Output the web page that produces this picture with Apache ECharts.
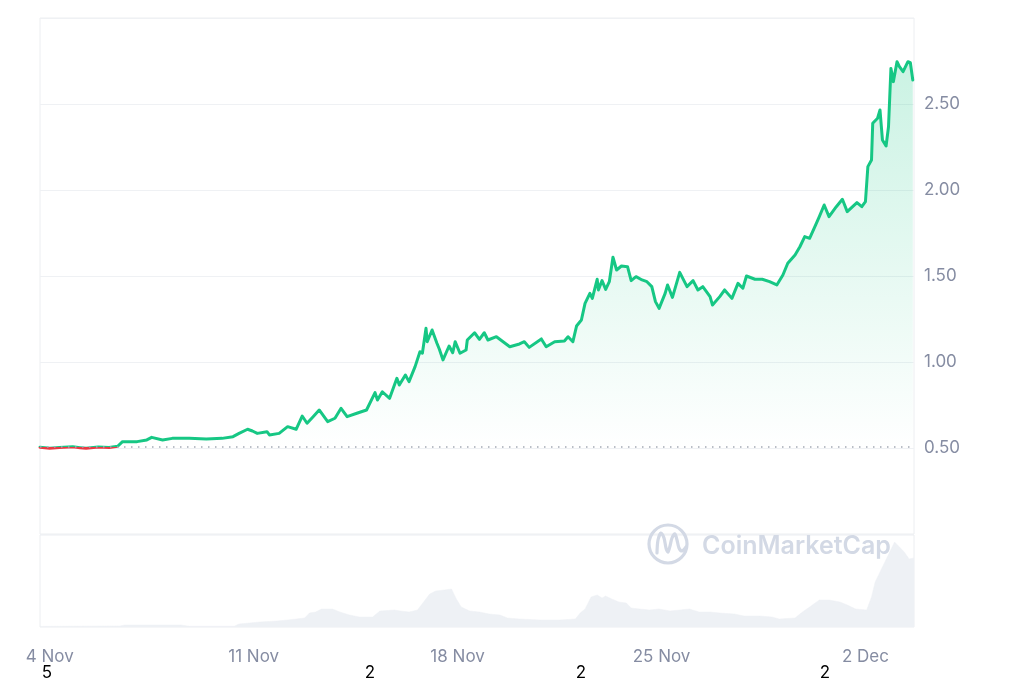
<!DOCTYPE html>
<html>
<head>
<meta charset="utf-8">
<script src="https://cdn.jsdelivr.net/npm/echarts@6/dist/echarts.min.js"></script>
<style>
html,body{margin:0;padding:0;background:#fff;}
#c{width:1024px;height:683px;}
</style>
</head>
<body>
<div id="c"></div>
<script>
// ---- data (hours are counted from 4 Nov 00:00) ----
const priceHours = [-8,0,8,19,25,30,40,49,56,60,72,80,84,93,101,115,129,142,151,156,163,167,171,179,181,189,196,203,208,212,217,222,229,235,240,245,253,261,268,270,274,280,286,288,293,296,301,305,307,310,311,315,319,321,324,329,332,334,338,343,344,350,354,358,361,368,379,387,391,395,405,409,416,424,427,431,434,438,441,445,447,451,452,455,458,461,464,467,471,476,479,483,488,492,496,499,502,507,509,513,519,525,530,534,538,544,546,552,556,562,567,571,574,581,587,593,599,604,608,614,618,622,626,631,634,638,642,648,653,657,665,669,672,674,677,678,682,684,686,689,691,693,695,698,700,703,707,709,711];
const priceValues = [0.505,0.499,0.503,0.507,0.502,0.498,0.506,0.503,0.510,0.537,0.537,0.547,0.562,0.547,0.556,0.556,0.552,0.556,0.566,0.585,0.609,0.599,0.585,0.595,0.576,0.585,0.624,0.609,0.686,0.644,0.682,0.721,0.653,0.673,0.731,0.682,0.702,0.721,0.822,0.779,0.827,0.789,0.905,0.866,0.924,0.886,0.973,1.060,1.051,1.196,1.118,1.186,1.109,1.074,1.012,1.093,1.054,1.118,1.051,1.070,1.128,1.170,1.132,1.170,1.128,1.147,1.089,1.105,1.118,1.085,1.134,1.089,1.118,1.122,1.147,1.118,1.209,1.244,1.341,1.399,1.370,1.481,1.419,1.473,1.422,1.467,1.609,1.535,1.558,1.554,1.473,1.496,1.477,1.467,1.438,1.351,1.312,1.399,1.448,1.376,1.521,1.438,1.473,1.419,1.438,1.380,1.331,1.380,1.419,1.370,1.457,1.429,1.500,1.481,1.481,1.467,1.448,1.506,1.574,1.622,1.670,1.729,1.719,1.797,1.845,1.913,1.845,1.903,1.946,1.874,1.927,1.903,1.932,2.136,2.174,2.388,2.417,2.465,2.291,2.256,2.368,2.707,2.630,2.746,2.717,2.688,2.746,2.740,2.640];
const openPrice = 0.505;

const volumeHours = [-8,25,58,62,108,115,152,156,173,187,196,210,214,219,224,233,239,247,255,266,272,284,289,296,303,308,313,318,325,331,335,339,346,354,362,371,377,387,404,420,433,437,441,446,451,455,458,463,469,475,479,486,494,502,511,519,527,535,544,552,564,572,585,595,601,614,619,626,634,642,651,657,664,673,677,680,684,688,692,696,700,704,708,712];
const volumeValues = [0.3,0.4,0.5,1,1,0.4,0.4,1.5,2.5,3,3.5,4.5,7,7.5,9,9,7.5,6,5,5,8,8.5,8,7.5,8.5,12.5,16.5,18,18.5,19,14,10,8,7.5,6.5,6,4.5,4,3.5,3.5,4,7,9,15,16,14.5,15.5,14,12.5,12,9.5,9,8.5,9,8,8.5,9,7.5,7.5,7,6.5,5.5,5.5,5,4,4.5,7,10,13.5,13.5,12.5,11,9,8.5,15,22.5,27.5,32.5,37.5,42.5,40,37.5,34,34.5];

const tickHours = [0,168,336,504,672];
const tickLabels = ['4 Nov','11 Nov','18 Nov','25 Nov','2 Dec'];
const priceTicks = [0.5,1.0,1.5,2.0,2.5];
const footNotes = ['5','2','2','2'];

// ---- build ----
const priceData = priceHours.map((h,i)=>[h, priceValues[i]]);
const volumeData = volumeHours.map((h,i)=>[h, volumeValues[i]]);
const hMin = -8, hMax = 712;

const GREEN = '#16c784', RED = '#ea3943';
const LABEL = '#858ca2';
const FONT = 'Inter, "Noto Sans", sans-serif';
const BORDER = '#eceef1';
const WM = '#d3d9e5';

const chart = echarts.init(document.getElementById('c'), null, {renderer:'canvas'});
chart.setOption({
  animation:false,
  backgroundColor:'#fff',
  grid:[
    {left:40, right:110, top:18, height:516, show:true, borderColor:BORDER, borderWidth:1},
    {left:40, right:110, top:535, height:92, show:true, borderColor:BORDER, borderWidth:1}
  ],
  xAxis:[
    {type:'value', gridIndex:0, min:hMin, max:hMax, axisLine:{show:false}, axisTick:{show:false}, axisLabel:{show:false}, splitLine:{show:false}},
    {type:'value', gridIndex:1, min:hMin, max:hMax, axisLine:{show:false}, axisTick:{show:false}, splitLine:{show:false},
     axisLabel:{customValues:tickHours, color:LABEL, fontSize:17, fontFamily:FONT, margin:21,
       formatter:(v)=>{const i=tickHours.indexOf(v); return i>=0?tickLabels[i]:'';}}}
  ],
  yAxis:[
    {type:'value', gridIndex:0, position:'right', min:0, max:3, interval:0.5,
     axisLine:{show:false}, axisTick:{show:false},
     axisLabel:{customValues:priceTicks, color:LABEL, fontSize:17, fontFamily:FONT, margin:10, formatter:v=>v.toFixed(2)},
     splitLine:{show:true, lineStyle:{color:'#eff1f4', width:1}}},
    {type:'value', gridIndex:1, position:'right', min:0, max:46,
     axisLine:{show:false}, axisTick:{show:false}, axisLabel:{show:false}, splitLine:{show:false}}
  ],
  visualMap:{
    type:'piecewise', show:false, seriesIndex:0, dimension:1,
    pieces:[{gte:0, lt:openPrice, color:RED},{gte:openPrice, lte:3, color:GREEN}],
    outOfRange:{color:GREEN}
  },
  series:[
    {type:'line', xAxisIndex:0, yAxisIndex:0, data:priceData, showSymbol:false, symbol:'none',
     lineStyle:{width:3, join:'round', cap:'round'},
     areaStyle:{color:new echarts.graphic.LinearGradient(0,0,0,1,[
       {offset:0, color:'rgba(22,199,132,0.32)'},
       {offset:0.55, color:'rgba(22,199,132,0.11)'},
       {offset:0.82, color:'rgba(22,199,132,0.0)'},
       {offset:1, color:'rgba(22,199,132,0.0)'}])},
     markLine:{silent:true, symbol:'none', label:{show:false},
       lineStyle:{color:'#a3a9b4', type:[1.5,5.5], width:1.5},
       data:[{yAxis:openPrice}]},
     z:3},
    {type:'line', xAxisIndex:1, yAxisIndex:1, data:volumeData, showSymbol:false, symbol:'none',
     lineStyle:{width:0.5, color:'#eef1f5'}, areaStyle:{color:'#eef1f5', opacity:1}}
  ],
  graphic:[
    {type:'circle', z:100, shape:{cx:668, cy:544, r:19}, style:{fill:'none', stroke:WM, lineWidth:3.2}},
    {type:'polyline', z:100, shape:{points:[[657,553],[658,540],[661,533],[664,538],[666,548],[668,552],[670,546],[672,538],[675,534],[677,540],[679,548],[682,551],[686,547]], smooth:0.3},
     style:{fill:'none', stroke:WM, lineWidth:3.2, lineCap:'round', lineJoin:'round'}},
    {type:'text', z:100, x:702, y:546, style:{text:'CoinMarketCap', fill:WM, font:'600 25px Inter, "Noto Sans", sans-serif', verticalAlign:'middle', align:'left'}},
    {type:'text', x:47, y:673, style:{text:footNotes[0], fill:'#000', font:'17px Inter, "Noto Sans", sans-serif', align:'center', verticalAlign:'middle'}},
    {type:'text', x:370, y:673, style:{text:footNotes[1], fill:'#000', font:'17px Inter, "Noto Sans", sans-serif', align:'center', verticalAlign:'middle'}},
    {type:'text', x:581, y:673, style:{text:footNotes[2], fill:'#000', font:'17px Inter, "Noto Sans", sans-serif', align:'center', verticalAlign:'middle'}},
    {type:'text', x:825, y:673, style:{text:footNotes[3], fill:'#000', font:'17px Inter, "Noto Sans", sans-serif', align:'center', verticalAlign:'middle'}}
  ]
});
</script>
</body>
</html>
